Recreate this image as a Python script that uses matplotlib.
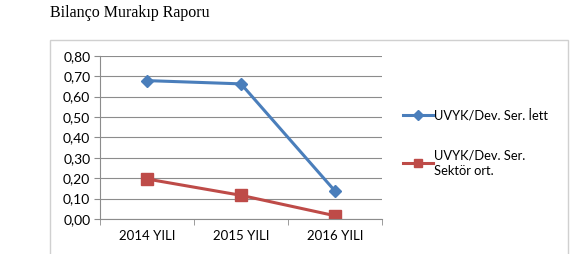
import matplotlib
matplotlib.use('Agg')
import matplotlib.pyplot as plt
from matplotlib.patches import Rectangle
from matplotlib.ticker import FuncFormatter

# data
years = ['2014 YILI', '2015 YILI', '2016 YILI']
iett = [0.678, 0.662, 0.137]
sektor = [0.196, 0.116, 0.016]
y_ticks = [0.0, 0.1, 0.2, 0.3, 0.4, 0.5, 0.6, 0.7, 0.8]

plt.rcParams['font.family'] = ['Lato', 'DejaVu Sans']

fig = plt.figure(figsize=(5.85, 2.54), dpi=100)
W, H = 585, 254

# title (serif, like the thesis text)
fig.text(50 / W, 1 - 13 / H, 'Bilanço Murakıp Raporu', family='Liberation Serif',
         fontsize=11.5, va='center', ha='left')

# outer chart frame
fig.patches.append(Rectangle((50 / W, -0.05), (568 - 50) / W, 1 - 40 / H + 0.05,
                             transform=fig.transFigure, fill=False,
                             edgecolor='#d0d0d0', lw=1))

ax = fig.add_axes([100 / W, 1 - 219 / H, (382 - 100) / W, (219 - 55.7) / H])
x = range(len(years))
ax.plot(x, iett, color='#4a7ebb', lw=2.2, marker='D', ms=6,
        label='UVYK/Dev. Ser. İett')
ax.plot(x, sektor, color='#be4b48', lw=2.2, marker='s', ms=8,
        label='UVYK/Dev. Ser.\nSektör ort.')

ax.set_xlim(-0.5, 2.5)
ax.set_ylim(0, 0.8)
ax.set_yticks(y_ticks)
ax.yaxis.set_major_formatter(FuncFormatter(lambda v, p: f'{v:.2f}'.replace('.', ',')))
ax.set_xticks(x)
ax.set_xticklabels(years)
ax.grid(True, axis='y', color='#8c8c8c', lw=0.8)
ax.set_axisbelow(True)
for s in ['top', 'right']:
    ax.spines[s].set_visible(False)
ax.spines['left'].set_color('#8c8c8c')
ax.spines['bottom'].set_color('#8c8c8c')
ax.tick_params(axis='y', length=4, color='#8c8c8c', labelsize=10, pad=3)
ax.tick_params(axis='x', length=0, labelsize=9.5, pad=8)
# minor ticks between categories on x axis, like Excel
ax.set_xticks([-0.5, 0.5, 1.5, 2.5], minor=True)
ax.tick_params(axis='x', which='minor', length=4, color='#8c8c8c')

leg = ax.legend(loc='upper left', bbox_to_anchor=(1.035, 0.745), frameon=False,
                fontsize=9.3, handlelength=2.3, handletextpad=0.1,
                labelspacing=2.15, markerscale=0.8)
for t in leg.get_texts():
    t.set_linespacing(1.35)

fig.savefig('out.png', dpi=100)
